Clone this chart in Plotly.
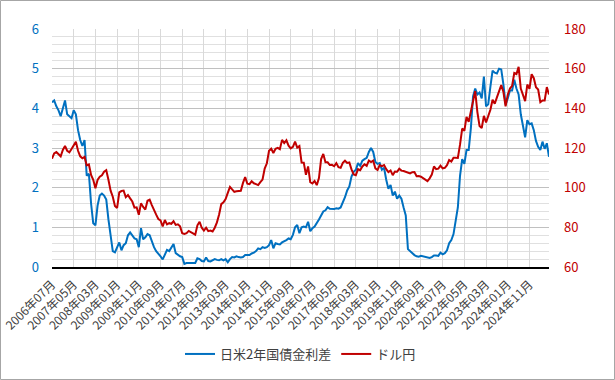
import plotly.graph_objects as go

# Categories: monthly, 2006-07 .. 2025-08
all_months = [f"{y}年{m:02d}月" for y in range(2006, 2026) for m in range(1, 13)]
months = all_months[6:6 + 230]
tick_labels = months[::10]

# 日米2年国債金利差 (%)
spread = [
    4.15, 4.2, 4.05, 3.95, 3.8, 4.0,                                   # 2006 H2
    4.2, 3.85, 3.8, 3.75, 3.95, 3.85, 3.45, 3.2, 3.05, 3.2, 2.3, 2.35,  # 2007
    1.6, 1.1, 1.05, 1.55, 1.8, 1.85, 1.8, 1.7, 1.2, 0.85, 0.4, 0.37,    # 2008
    0.5, 0.62, 0.42, 0.55, 0.6, 0.8, 0.87, 0.78, 0.72, 0.7, 0.5, 0.98,  # 2009
    0.7, 0.75, 0.83, 0.8, 0.62, 0.5, 0.4, 0.34, 0.27, 0.19, 0.3, 0.43,  # 2010
    0.4, 0.5, 0.58, 0.35, 0.3, 0.27, 0.25, 0.08, 0.1, 0.1, 0.11, 0.1,   # 2011
    0.1, 0.22, 0.2, 0.15, 0.14, 0.24, 0.15, 0.14, 0.16, 0.2, 0.18, 0.17,  # 2012
    0.2, 0.17, 0.2, 0.12, 0.2, 0.25, 0.24, 0.27, 0.25, 0.24, 0.25, 0.3,   # 2013
    0.3, 0.3, 0.34, 0.36, 0.4, 0.47, 0.45, 0.5, 0.48, 0.5, 0.55, 0.68,    # 2014
    0.47, 0.6, 0.58, 0.57, 0.62, 0.64, 0.68, 0.72, 0.7, 0.81, 1.0, 1.06,  # 2015
    0.85, 1.0, 1.02, 1.0, 1.14, 0.9, 0.98, 1.02, 1.1, 1.2, 1.3, 1.4,      # 2016
    1.43, 1.51, 1.47, 1.46, 1.46, 1.48, 1.47, 1.5, 1.61, 1.76, 1.93, 2.03,  # 2017
    2.28, 2.4, 2.45, 2.62, 2.55, 2.68, 2.72, 2.75, 2.9, 3.0, 2.9, 2.65,     # 2018
    2.6, 2.62, 2.45, 2.5, 2.2, 1.97, 2.07, 1.8, 1.9, 1.72, 1.8, 1.72,       # 2019
    1.5, 1.3, 0.45, 0.4, 0.33, 0.3, 0.27, 0.26, 0.28, 0.27, 0.26, 0.25,     # 2020
    0.23, 0.25, 0.29, 0.29, 0.28, 0.36, 0.32, 0.35, 0.42, 0.6, 0.68, 0.83,  # 2021
    1.22, 1.5, 2.3, 2.72, 2.6, 2.95, 2.95, 3.5, 4.3, 4.5, 4.35, 4.4,        # 2022
    4.25, 4.8, 4.05, 4.1, 4.55, 4.95, 4.9, 4.88, 5.0, 4.98, 4.6, 4.1,       # 2023
    4.25, 4.45, 4.45, 4.72, 4.5, 4.35, 3.85, 3.5, 3.27, 3.7, 3.6, 3.62,     # 2024
    3.45, 3.18, 3.03, 2.95, 3.16, 2.98, 3.12, 2.78,                         # 2025
]

# ドル円 (円)
usdjpy = [
    114.6, 117.3, 118.0, 116.9, 115.8, 119.0,
    121.0, 118.6, 117.8, 119.5, 121.7, 123.2, 118.6, 115.8, 114.8, 115.5, 111.2, 111.7,
    106.4, 104.0, 99.7, 103.9, 105.5, 106.2, 108.0, 108.8, 104.0, 98.5, 95.4, 90.8,
    89.8, 97.6, 98.3, 98.5, 95.2, 96.3, 94.6, 93.0, 89.9, 90.1, 86.3, 92.1,
    90.3, 89.0, 93.4, 94.0, 91.2, 88.4, 86.4, 84.2, 83.5, 80.4, 83.7, 81.5,
    82.1, 81.8, 83.1, 81.2, 81.5, 80.5, 77.0, 76.7, 77.1, 78.2, 77.5, 77.0,
    76.3, 81.0, 82.8, 79.8, 78.4, 79.8, 78.1, 78.4, 77.9, 79.8, 82.5, 86.5,
    91.7, 92.6, 94.2, 97.4, 100.4, 99.1, 97.9, 98.2, 98.2, 98.4, 102.4, 105.3,
    102.0, 101.8, 103.2, 102.2, 101.8, 101.3, 102.8, 104.1, 109.6, 112.3, 118.6, 119.7,
    117.5, 119.6, 120.1, 119.4, 124.1, 122.5, 123.9, 121.2, 119.8, 120.6, 123.2, 120.2,
    121.0, 112.7, 112.6, 106.5, 110.7, 102.8, 102.1, 103.4, 101.3, 104.8, 114.4, 117.0,
    112.8, 112.8, 111.4, 111.5, 110.8, 112.4, 110.3, 110.0, 112.5, 113.6, 112.5, 112.7,
    109.2, 106.7, 106.3, 109.3, 108.8, 110.7, 111.8, 111.0, 113.7, 112.9, 113.6, 109.7,
    108.9, 111.4, 110.9, 111.4, 109.3, 107.9, 108.7, 106.3, 108.1, 108.0, 109.5, 108.6,
    108.4, 107.9, 107.5, 107.2, 107.8, 107.9, 105.8, 105.9, 105.5, 104.7, 104.3, 103.3,
    104.7, 106.6, 110.7, 109.3, 109.6, 111.1, 109.7, 110.0, 111.3, 113.9, 113.2, 115.1,
    115.1, 115.0, 121.7, 129.8, 128.7, 135.7, 133.2, 138.7, 144.7, 148.7, 138.1, 131.1,
    130.1, 136.2, 132.9, 136.3, 139.3, 144.3, 142.3, 145.5, 149.2, 151.7, 148.2, 141.0,
    146.9, 150.0, 151.3, 157.8, 157.3, 160.9, 150.0, 146.2, 143.6, 152.0, 149.8, 157.2,
    155.2, 150.6, 149.5, 143.1, 144.0, 144.0, 150.7, 147.0,
]

n = min(len(months), len(spread), len(usdjpy))

FONT = "Noto Sans CJK JP"
BLUE = "#0070C0"
RED = "#C00000"

fig = go.Figure()
fig.add_trace(go.Scatter(x=months[:n], y=spread[:n], name="日米2年国債金利差",
                         mode="lines", line=dict(color=BLUE, width=2), yaxis="y"))
fig.add_trace(go.Scatter(x=months[:n], y=usdjpy[:n], name="ドル円",
                         mode="lines", line=dict(color=RED, width=2), yaxis="y2"))

L, R, T, B = 52, 66, 29, 113
W, H = 615, 380
pw, ph = W - L - R, H - T - B

fig.update_layout(
    width=W, height=H,
    margin=dict(l=L, r=R, t=T, b=B, autoexpand=False),
    paper_bgcolor="white", plot_bgcolor="white",
    font=dict(family=FONT, size=12, color="#404040"),
    showlegend=True,
    legend=dict(orientation="h", x=0.5, xanchor="center",
                y=(T + ph - 354) / ph, yanchor="middle",
                font=dict(size=13, color="#404040"), bgcolor="rgba(0,0,0,0)"),
    xaxis=dict(type="category", range=[0, n - 1], tickmode="array",
               tickvals=tick_labels, ticktext=tick_labels, tickangle=-45,
               showgrid=True, gridcolor="#d9d9d9", gridwidth=1,
               showline=True, linecolor="black", linewidth=1.5,
               ticks="", tickfont=dict(size=12, color="#404040"),
               ticklabelstandoff=4, automargin=False),
    yaxis=dict(range=[0, 6], dtick=1, tickfont=dict(size=13, color=BLUE),
               showgrid=True, gridcolor="#c0c0c0", gridwidth=1, zeroline=False,
               minor=dict(dtick=0.2, showgrid=True, gridcolor="#e0e0e0", gridwidth=1),
               ticks="", ticklabelstandoff=12, automargin=False),
    yaxis2=dict(range=[60, 180], dtick=20, overlaying="y", side="right",
                tickfont=dict(size=13, color=RED), showgrid=False, zeroline=False,
                ticks="", ticklabelstandoff=14, automargin=False),
    shapes=[dict(type="rect", xref="paper", yref="paper", layer="above",
                 x0=(0.5 - L) / pw, x1=(W - 0.5 - L) / pw,
                 y0=(T + ph - (H - 0.5)) / ph, y1=(T + ph - 0.5) / ph,
                 line=dict(color="#a6a6a6", width=1), fillcolor="rgba(0,0,0,0)")],
)

fig.write_html("out.html", config={"displayModeBar": False},
               post_script="document.body.style.margin='0';")
